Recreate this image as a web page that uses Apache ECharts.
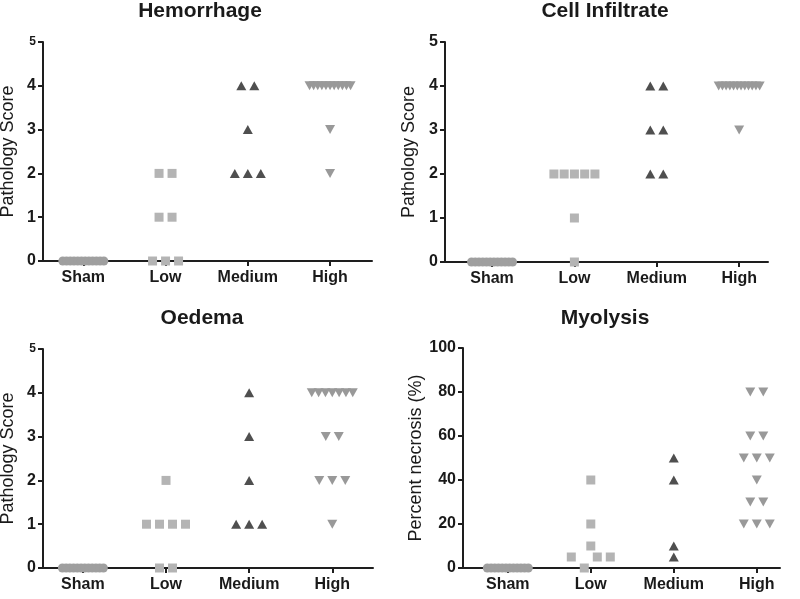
<!DOCTYPE html>
<html><head><meta charset="utf-8">
<script src="https://cdn.jsdelivr.net/npm/echarts@6/dist/echarts.min.js"></script>
<style>html,body{margin:0;padding:0;background:#fff}#c{width:800px;height:599px}</style>
</head><body><div id="c"></div>
<script>
// ---------- data ----------
const categories = ['Sham', 'Low', 'Medium', 'High'];
const titles = ['Hemorrhage', 'Cell Infiltrate', 'Oedema', 'Myolysis'];
const yNames = ['Pathology Score', 'Pathology Score', 'Pathology Score', 'Percent necrosis (%)'];
const scoreTicks = [0, 1, 2, 3, 4, 5];
const percentTicks = [0, 20, 40, 60, 80, 100];

const hemSham   = [0,0,0,0,0,0,0,0,0,0,0,0];
const hemLow    = [2,2,1,1,0,0,0];
const hemMedium = [4,4,3,2,2,2];
const hemHigh   = [4,4,4,4,4,4,4,4,4,4,4,3,2];

const cellSham   = [0,0,0,0,0,0,0,0,0,0,0,0];
const cellLow    = [2,2,2,2,2,1,0];
const cellMedium = [4,4,3,3,2,2];
const cellHigh   = [4,4,4,4,4,4,4,4,4,4,4,4,3];

const oedSham   = [0,0,0,0,0,0,0,0,0,0,0,0];
const oedLow    = [2,1,1,1,1,0,0];
const oedMedium = [4,3,2,1,1,1];
const oedHigh   = [4,4,4,4,4,4,4,3,3,2,2,2,1];

const myoSham   = [0,0,0,0,0,0,0,0,0,0,0,0];
const myoLow    = [40,20,10,5,0,5,5];
const myoMedium = [50,40,10,5];
const myoHigh   = [80,80,60,60,50,50,50,40,30,30,20,20,20];

// ---------- layout / style ----------
const panelData = [
  [hemSham, hemLow, hemMedium, hemHigh],
  [cellSham, cellLow, cellMedium, cellHigh],
  [oedSham, oedLow, oedMedium, oedHigh],
  [myoSham, myoLow, myoMedium, myoHigh]
];
const layout = [
  {grid:{left:43, top:42, width:329, height:219}, xMin:-0.49, xMax:3.51, ticks:scoreTicks, smallTop:true, nameGap:26, tx:200, ty:1},
  {grid:{left:445, top:42, width:323, height:220}, xMin:-0.571, xMax:3.35, ticks:scoreTicks, smallTop:false, nameGap:27, tx:605, ty:1},
  {grid:{left:43, top:349, width:330, height:219}, xMin:-0.48, xMax:3.49, ticks:scoreTicks, smallTop:true, nameGap:26, tx:202, ty:308},
  {grid:{left:463, top:348, width:317, height:220}, xMin:-0.54, xMax:3.28, ticks:percentTicks, smallTop:false, nameGap:38, tx:605, ty:308}
];
const symbols = [
  {symbol:'circle', size:9, rotate:0, color:'#9f9f9f'},
  {symbol:'rect', size:9, rotate:0, color:'#b4b4b4'},
  {symbol:'triangle', size:[10,9], rotate:0, color:'#4f4f4f'},
  {symbol:'triangle', size:[10,9], rotate:180, color:'#999999'}
];
const AX = '#1e1e1e';

// points falling in the same value bin are spread side by side in a centred row
function jitter(vals, yRange) {
  const binW = yRange * 0.075;
  const groups = {};
  vals.forEach((v, i) => {
    const key = Math.floor(v / binW + 1e-9);
    (groups[key] = groups[key] || []).push(i);
  });
  const off = new Array(vals.length).fill(0);
  Object.values(groups).forEach(idx => {
    const n = idx.length;
    const s = n > 1 ? Math.min(13, 41 / (n - 1)) : 0;
    idx.forEach((k, j) => { off[k] = (j - (n - 1) / 2) * s; });
  });
  return off;
}

const option = {
  animation: false,
  backgroundColor: '#fff',
  textStyle: {fontFamily: 'Liberation Sans, Arial, sans-serif'},
  title: [], grid: [], xAxis: [], yAxis: [], series: []
};

layout.forEach((L, p) => {
  const yMin = L.ticks[0], yMax = L.ticks[L.ticks.length - 1];
  option.title.push({
    text: titles[p], left: L.tx, top: L.ty, textAlign: 'center', padding: 0,
    textStyle: {fontSize: 21, fontWeight: 'bold', color: '#1a1a1a', fontFamily: 'Liberation Sans, Arial, sans-serif'}
  });
  option.grid.push(Object.assign({containLabel: false, outerBoundsMode: 'none'}, L.grid));
  option.xAxis.push({
    type: 'value', gridIndex: p, min: L.xMin, max: L.xMax,
    splitLine: {show: false},
    axisLine: {show: true, onZero: false, lineStyle: {color: AX, width: 2}},
    axisTick: {show: true, length: 5, lineStyle: {color: AX, width: 2}, customValues: [0, 1, 2, 3]},
    axisLabel: {
      customValues: [0, 1, 2, 3], margin: 9,
      formatter: v => categories[Math.round(v)],
      fontSize: 16, fontWeight: 'bold', color: '#1a1a1a'
    }
  });
  option.yAxis.push({
    type: 'value', gridIndex: p, min: yMin, max: yMax, interval: L.ticks[1] - L.ticks[0],
    name: yNames[p], nameLocation: 'middle', nameGap: L.nameGap,
    nameTextStyle: {fontSize: 18, color: '#1a1a1a', fontWeight: 'normal'},
    splitLine: {show: false},
    axisLine: {show: true, onZero: false, lineStyle: {color: AX, width: 2}},
    axisTick: {show: true, length: 5, lineStyle: {color: AX, width: 2}},
    axisLabel: {
      margin: 7, fontSize: 16, fontWeight: 'bold', color: '#1a1a1a',
      formatter: v => (L.smallTop && v === yMax) ? '{s|' + v + '}' : String(v),
      rich: {s: {fontSize: 12, fontWeight: 'bold', color: '#1a1a1a'}}
    }
  });
  panelData[p].forEach((vals, ci) => {
    const S = symbols[ci];
    const off = jitter(vals, yMax - yMin);
    option.series.push({
      type: 'scatter', xAxisIndex: p, yAxisIndex: p,
      name: categories[ci],
      symbol: S.symbol, symbolSize: S.size, symbolRotate: S.rotate,
      itemStyle: {color: S.color, opacity: 1},
      z: 5, silent: true,
      data: vals.map((v, i) => ({value: [ci, v], symbolOffset: [off[i], 0]}))
    });
  });
});

const chart = echarts.init(document.getElementById('c'), null, {renderer: 'canvas'});
chart.setOption(option);
</script>
</body></html>
